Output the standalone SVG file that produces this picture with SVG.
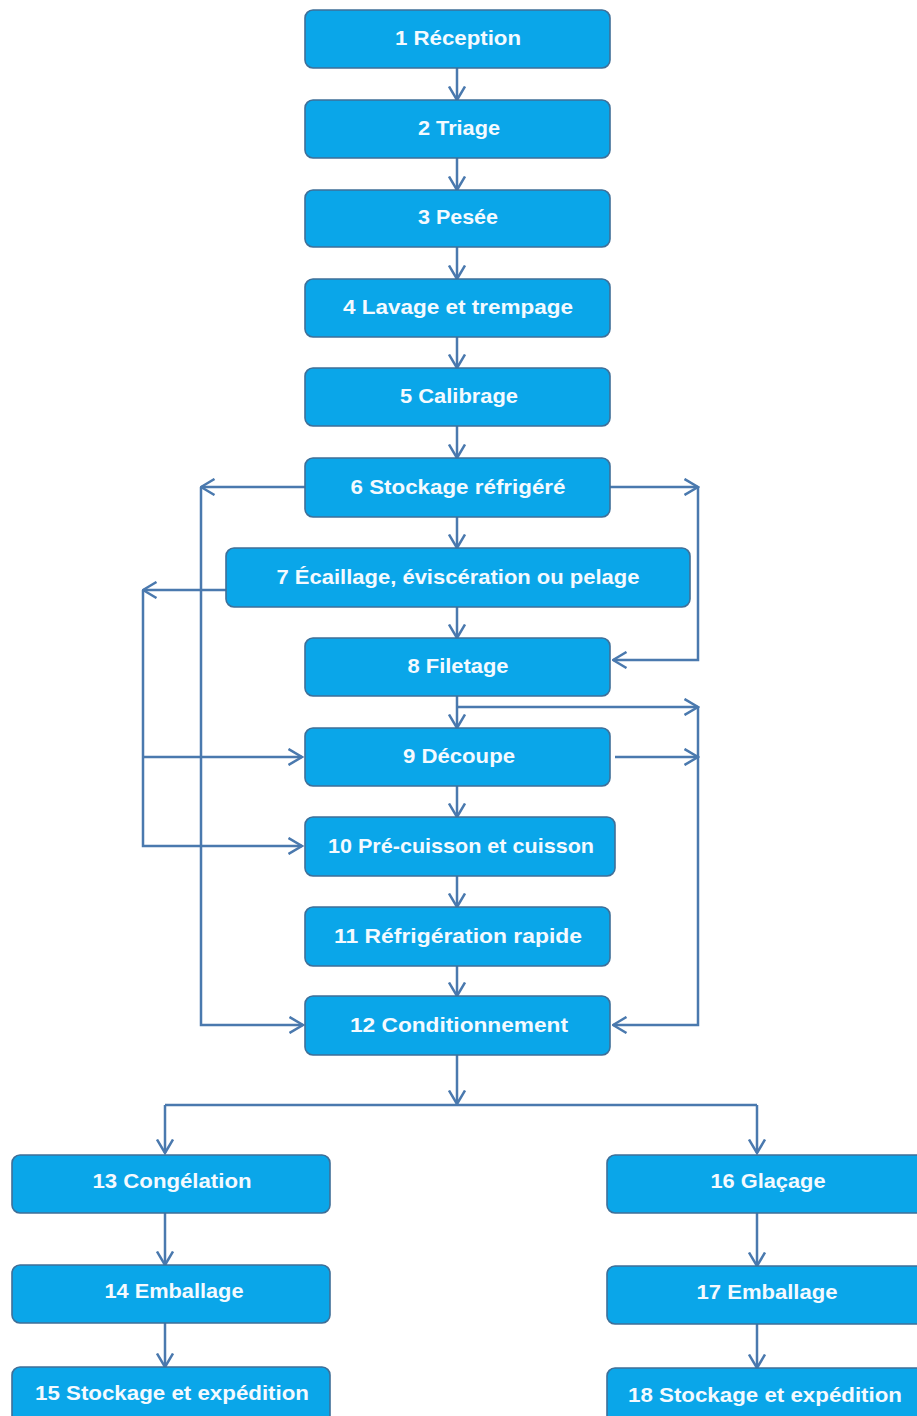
<svg xmlns="http://www.w3.org/2000/svg" width="917" height="1416" viewBox="0 0 917 1416">
<style>
.box{fill:#0AA6E9;stroke:#3F6F98;stroke-width:1.6}
.lbl{font-family:"Liberation Sans",Arial,sans-serif;font-weight:bold;font-size:21px;fill:#F4FAFF;text-anchor:middle}
.con{fill:none;stroke:#4A79AE;stroke-width:2.5}
.arr{marker-end:url(#ah)}
</style>
<defs>
<marker id="ah" viewBox="0 0 16 18" refX="14.5" refY="9" markerWidth="16" markerHeight="18" markerUnits="userSpaceOnUse" orient="auto">
<path d="M1,1 L14.5,9 L1,17" fill="none" stroke="#4A79AE" stroke-width="2.5"/>
</marker>
</defs>
<rect width="917" height="1416" fill="#ffffff"/>
<g id="connectors">
<path class="con arr" d="M457,68 V100"/>
<path class="con arr" d="M457,158 V190"/>
<path class="con arr" d="M457,247 V279"/>
<path class="con arr" d="M457,337 V368"/>
<path class="con arr" d="M457,426 V458"/>
<path class="con arr" d="M457,517 V548"/>
<path class="con arr" d="M457,607 V638"/>
<path class="con arr" d="M457,696 V728"/>
<path class="con arr" d="M457,786 V817"/>
<path class="con arr" d="M457,876 V907"/>
<path class="con arr" d="M457,966 V996"/>
<path class="con arr" d="M305,487 H201"/>
<path class="con arr" d="M201,487 V1025 H303"/>
<path class="con arr" d="M610,487 H698"/>
<path class="con arr" d="M698,487 V660 H613"/>
<path class="con arr" d="M226,590 H143"/>
<path class="con arr" d="M143,590 V846 H302"/>
<path class="con arr" d="M143,757 H302"/>
<path class="con arr" d="M457,707 H698"/>
<path class="con arr" d="M698,707 V1025 H613"/>
<path class="con arr" d="M615,757 H698"/>
<path class="con arr" d="M457,1055 V1104"/>
<path class="con" d="M165,1105 H757"/>
<path class="con arr" d="M165,1105 V1153"/>
<path class="con arr" d="M757,1105 V1153"/>
<path class="con arr" d="M165,1213 V1265"/>
<path class="con arr" d="M165,1323 V1367"/>
<path class="con arr" d="M757,1213 V1266"/>
<path class="con arr" d="M757,1324 V1368"/>
</g>
<g id="n1"><rect class="box" x="305" y="10" width="305" height="58" rx="8"/><text class="lbl" x="458" y="45" textLength="126" lengthAdjust="spacingAndGlyphs">1 Réception</text></g>
<g id="n2"><rect class="box" x="305" y="100" width="305" height="58" rx="8"/><text class="lbl" x="459" y="135" textLength="82" lengthAdjust="spacingAndGlyphs">2 Triage</text></g>
<g id="n3"><rect class="box" x="305" y="190" width="305" height="57" rx="8"/><text class="lbl" x="458" y="224" textLength="80" lengthAdjust="spacingAndGlyphs">3 Pesée</text></g>
<g id="n4"><rect class="box" x="305" y="279" width="305" height="58" rx="8"/><text class="lbl" x="458" y="314" textLength="230" lengthAdjust="spacingAndGlyphs">4 Lavage et trempage</text></g>
<g id="n5"><rect class="box" x="305" y="368" width="305" height="58" rx="8"/><text class="lbl" x="459" y="403" textLength="118" lengthAdjust="spacingAndGlyphs">5 Calibrage</text></g>
<g id="n6"><rect class="box" x="305" y="458" width="305" height="59" rx="8"/><text class="lbl" x="458" y="494" textLength="215" lengthAdjust="spacingAndGlyphs">6 Stockage réfrigéré</text></g>
<g id="n7"><rect class="box" x="226" y="548" width="464" height="59" rx="8"/><text class="lbl" x="458" y="584" textLength="363" lengthAdjust="spacingAndGlyphs">7 Écaillage, éviscération ou pelage</text></g>
<g id="n8"><rect class="box" x="305" y="638" width="305" height="58" rx="8"/><text class="lbl" x="458" y="673" textLength="101" lengthAdjust="spacingAndGlyphs">8 Filetage</text></g>
<g id="n9"><rect class="box" x="305" y="728" width="305" height="58" rx="8"/><text class="lbl" x="459" y="763" textLength="112" lengthAdjust="spacingAndGlyphs">9 Découpe</text></g>
<g id="n10"><rect class="box" x="305" y="817" width="310" height="59" rx="8"/><text class="lbl" x="461" y="853" textLength="266" lengthAdjust="spacingAndGlyphs">10 Pré-cuisson et cuisson</text></g>
<g id="n11"><rect class="box" x="305" y="907" width="305" height="59" rx="8"/><text class="lbl" x="458" y="943" textLength="248" lengthAdjust="spacingAndGlyphs">11 Réfrigération rapide</text></g>
<g id="n12"><rect class="box" x="305" y="996" width="305" height="59" rx="8"/><text class="lbl" x="459" y="1032" textLength="218" lengthAdjust="spacingAndGlyphs">12 Conditionnement</text></g>
<g id="n13"><rect class="box" x="12" y="1155" width="318" height="58" rx="8"/><text class="lbl" x="172" y="1188" textLength="159" lengthAdjust="spacingAndGlyphs">13 Congélation</text></g>
<g id="n14"><rect class="box" x="12" y="1265" width="318" height="58" rx="8"/><text class="lbl" x="174" y="1298" textLength="139" lengthAdjust="spacingAndGlyphs">14 Emballage</text></g>
<g id="n15"><rect class="box" x="12" y="1367" width="318" height="60" rx="8"/><text class="lbl" x="172" y="1400" textLength="274" lengthAdjust="spacingAndGlyphs">15 Stockage et expédition</text></g>
<g id="n16"><rect class="box" x="607" y="1155" width="318" height="58" rx="8"/><text class="lbl" x="768" y="1188" textLength="115" lengthAdjust="spacingAndGlyphs">16 Glaçage</text></g>
<g id="n17"><rect class="box" x="607" y="1266" width="318" height="58" rx="8"/><text class="lbl" x="767" y="1299" textLength="141" lengthAdjust="spacingAndGlyphs">17 Emballage</text></g>
<g id="n18"><rect class="box" x="607" y="1368" width="318" height="60" rx="8"/><text class="lbl" x="765" y="1402" textLength="274" lengthAdjust="spacingAndGlyphs">18 Stockage et expédition</text></g>
</svg>
